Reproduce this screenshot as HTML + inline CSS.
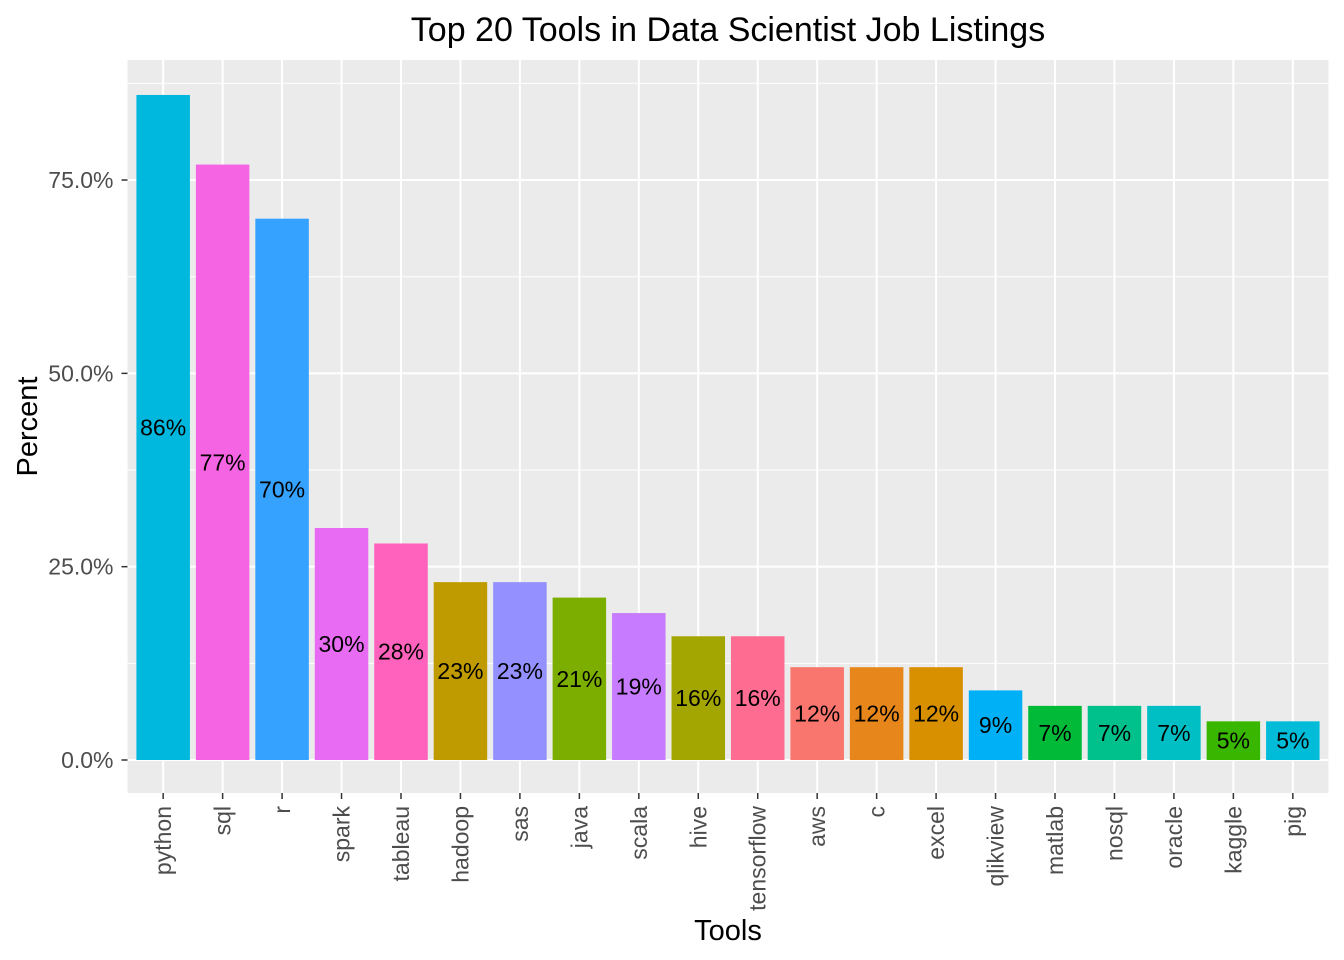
<!DOCTYPE html>
<html><head><meta charset="utf-8"><style>
html,body{margin:0;padding:0;background:#fff;}
svg{display:block;font-family:"Liberation Sans",Arial,sans-serif;}
</style></head><body>
<svg id="chart" width="1344" height="960"></svg>
<script>
const categories=["python","sql","r","spark","tableau","hadoop","sas","java","scala","hive","tensorflow","aws","c","excel","qlikview","matlab","nosql","oracle","kaggle","pig"];
const values=[86,77,70,30,28,23,23,21,19,16,16,12,12,12,9,7,7,7,5,5];
const colors=["#00B8DE","#F564E3","#35A2FF","#E76BF3","#FF62BC","#C09B00","#9590FF","#7CAE00","#C77CFF","#A3A500","#FF6C91","#F8766D","#E7861B","#D89000","#00B0F6","#00BA38","#00C08B","#00BFC4","#39B600","#00BCD8"];
const yTicks=[0,25,50,75];
const yTickLabels=["0.0%","25.0%","50.0%","75.0%"];
const NS="http://www.w3.org/2000/svg";
const svg=document.getElementById('chart');
const P={l:127.5,r:1328.5,t:60,b:793};
const step=(P.r-P.l)/(categories.length+0.2);
const x=i=>P.l+step*(0.6+i);
const y=v=>760-v*7.733;
function mk(t,a,p){const e=document.createElementNS(NS,t);for(const k in a)e.setAttribute(k,a[k]);(p||svg).appendChild(e);return e;}
const panel=mk('rect',{x:P.l,y:P.t,width:P.r-P.l,height:P.b-P.t,fill:'#EBEBEB'});


for(let i=0;i<yTicks.length;i++){const v=yTicks[i]+12.5;const yy=y(v);if(yy<P.t)continue;
const g=mk('line',{x1:P.l,x2:P.r,y1:yy,y2:yy,stroke:'#fff','stroke-width':1});

}
yTicks.forEach((v,i)=>{const yy=y(v);
const g=mk('line',{x1:P.l,x2:P.r,y1:yy,y2:yy,stroke:'#fff','stroke-width':2});


const tk=mk('line',{x1:P.l-6,x2:P.l,y1:yy,y2:yy,stroke:'#333','stroke-width':1.5});


const t=mk('text',{x:P.l-14,y:yy+8,'text-anchor':'end','font-size':23,fill:'#4D4D4D'});t.textContent=yTickLabels[i];

});
categories.forEach((c,i)=>{const cx=x(i);
const g=mk('line',{x1:cx,x2:cx,y1:P.t,y2:P.b,stroke:'#fff','stroke-width':2});

});
categories.forEach((c,i)=>{const cx=x(i),w=step*0.9;
const r=mk('rect',{x:cx-w/2,y:y(values[i]),width:w,height:y(0)-y(values[i]),fill:colors[i]});


const lt=mk('text',{x:cx,y:y(values[i]/2)+8,'text-anchor':'middle','font-size':23,fill:'#000'});lt.textContent=values[i]+'%';


const tk=mk('line',{x1:cx,x2:cx,y1:P.b,y2:P.b+6,stroke:'#333','stroke-width':1.5});


const t=mk('text',{x:0,y:0,'text-anchor':'end','font-size':23,fill:'#4D4D4D',transform:`translate(${cx+8},${P.b+13}) rotate(-90)`});t.textContent=c;

});
const ti=mk('text',{x:(P.l+P.r)/2,y:41,'text-anchor':'middle','font-size':34,fill:'#000'});ti.textContent='Top 20 Tools in Data Scientist Job Listings';


const xt=mk('text',{x:(P.l+P.r)/2,y:940,'text-anchor':'middle','font-size':29,fill:'#000'});xt.textContent='Tools';


const yt=mk('text',{x:0,y:0,'text-anchor':'middle','font-size':29,fill:'#000',transform:`translate(37,${(P.t+P.b)/2}) rotate(-90)`});yt.textContent='Percent';


</script>
</body></html>
